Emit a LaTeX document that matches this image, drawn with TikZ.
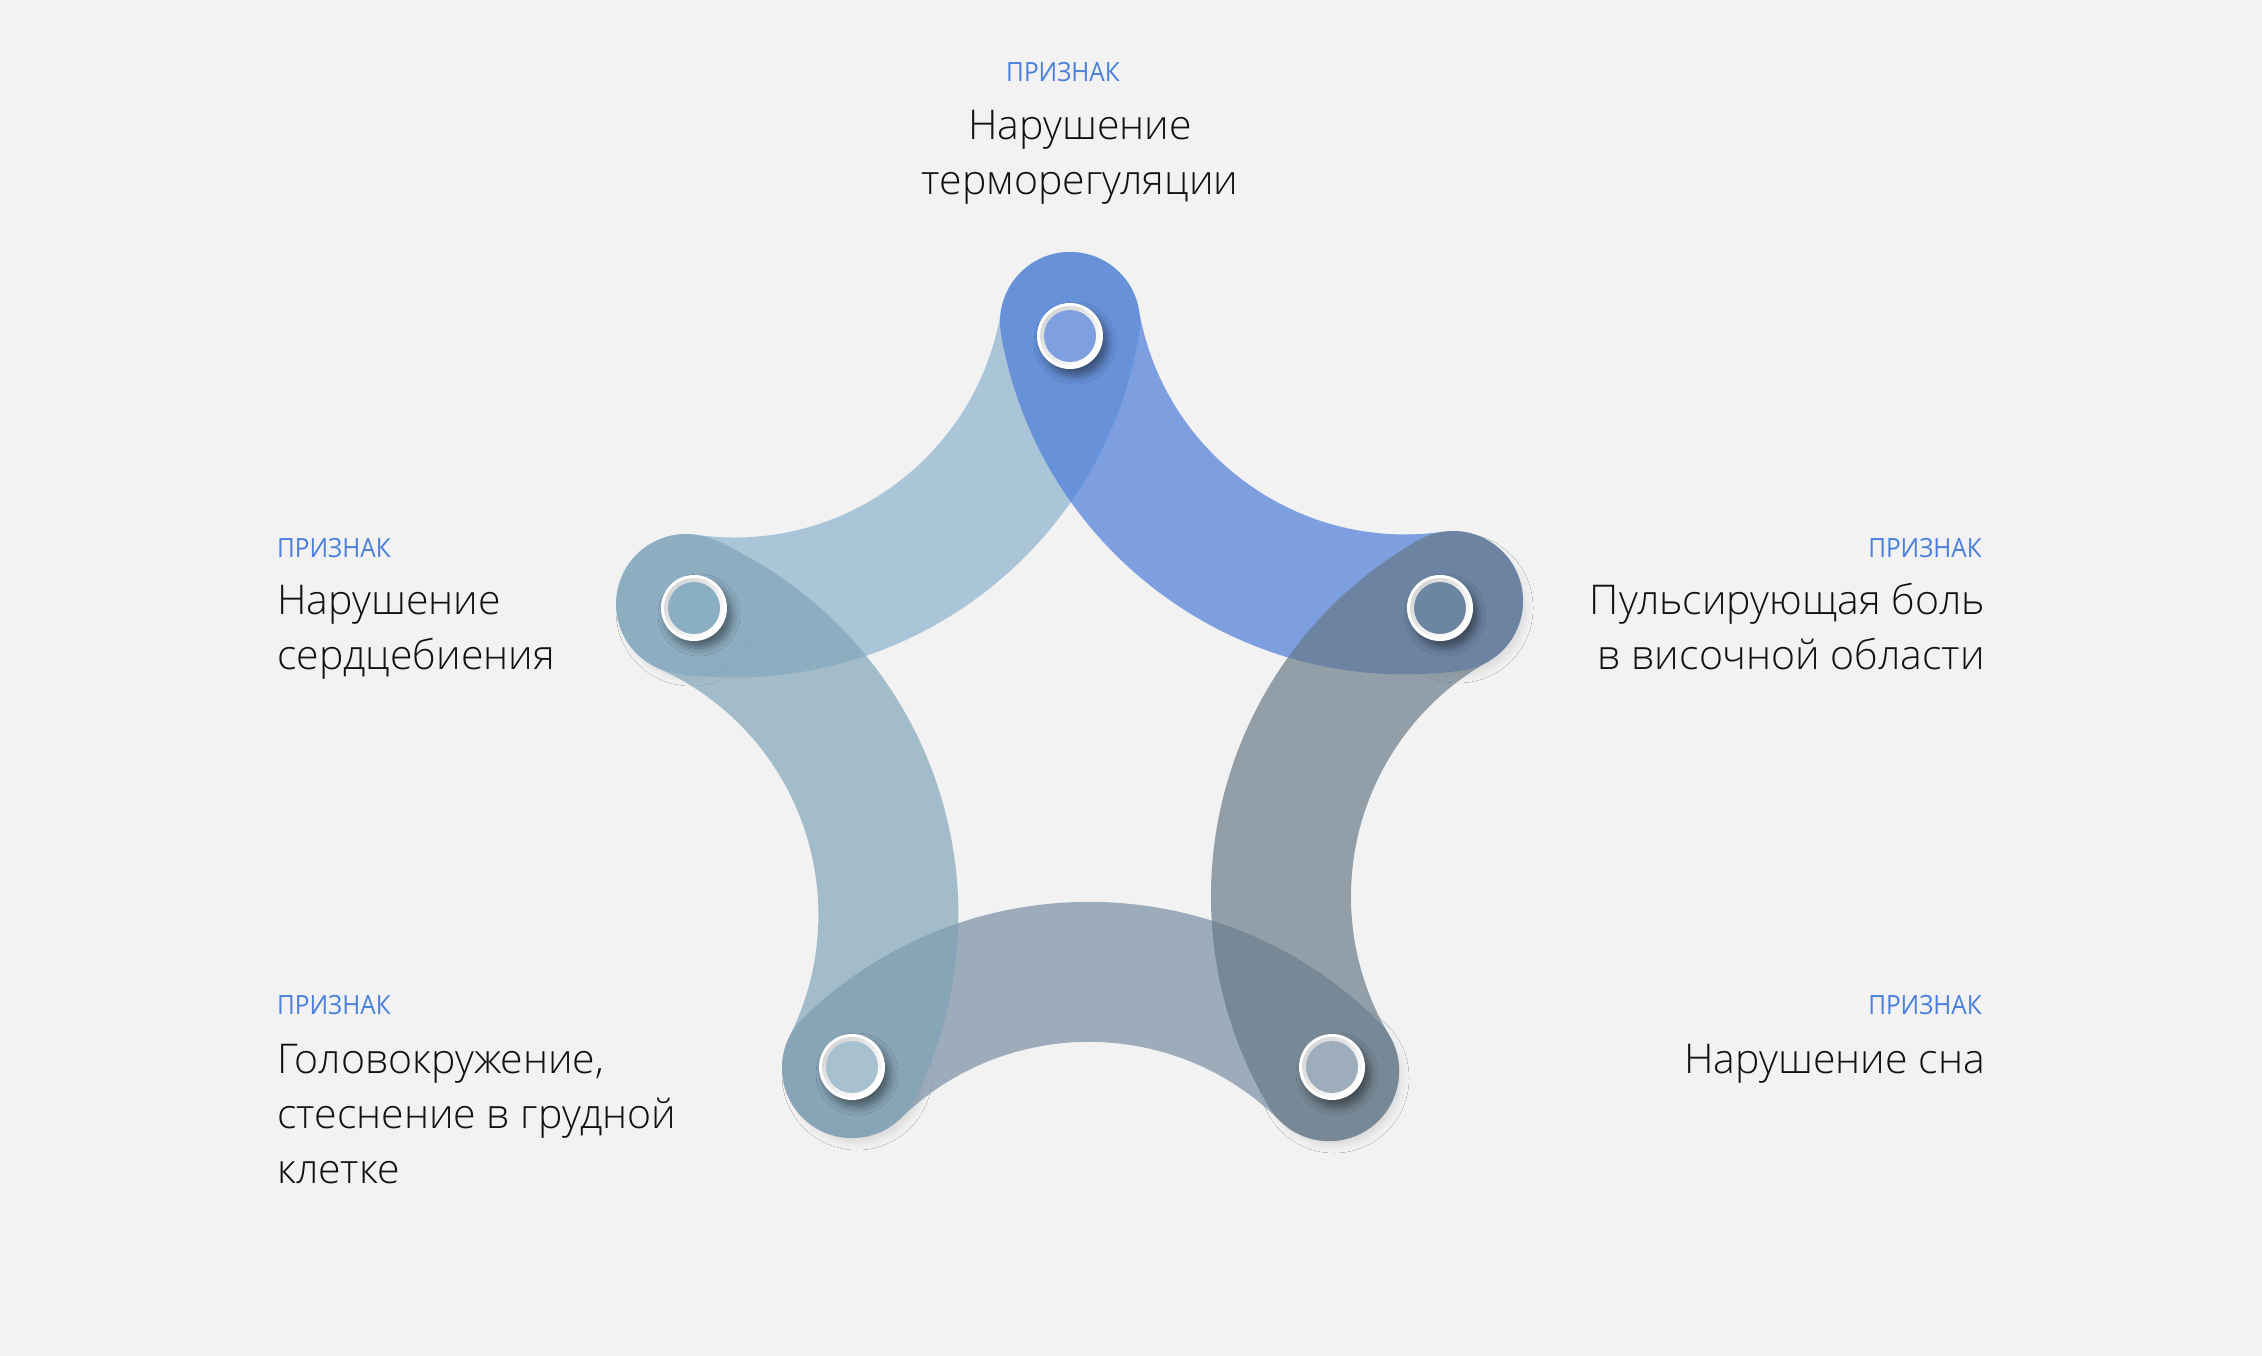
\documentclass[tikz,border=0pt]{standalone}
\usepackage{fontspec}
\setmainfont{Open Sans Light}
\newfontfamily\lblfont{Open Sans}[FakeStretch=0.92]
\usetikzlibrary{shadows.blur}
\definecolor{bgc}{HTML}{F2F2F2}
\definecolor{cLB}{HTML}{8AB1CC}
\definecolor{cBlue}{HTML}{4779D8}
\definecolor{cGray}{HTML}{657885}
\definecolor{cBot}{HTML}{758CA1}
\definecolor{cLeft}{HTML}{7FA3B7}
\definecolor{lab}{HTML}{4A80DB}
\definecolor{txt}{HTML}{111111}
\definecolor{dT}{HTML}{7EA0E0}
\definecolor{dR}{HTML}{6C85A1}
\definecolor{dL}{HTML}{8AAEC2}
\definecolor{dBL}{HTML}{A8C1CF}
\definecolor{dBR}{HTML}{9DADBB}
\tikzset{
  band/.style={line width=140bp, line cap=round, draw opacity=0.68},
  disc/.style={circle, minimum size=52bp, inner sep=0pt},
  lbl/.style={text=lab, font=\lblfont\fontsize{26.5bp}{30bp}\selectfont, inner sep=0pt},
  mtxt/.style={text=txt, font=\fontsize{41bp}{55bp}\selectfont, inner sep=0pt},
  ringshadow/.style={blur shadow={shadow xshift=5bp, shadow yshift=-7bp, shadow blur radius=8bp, shadow opacity=45}},
  capshadow/.style={blur shadow={shadow xshift=5bp, shadow yshift=-7bp, shadow blur radius=7bp, shadow opacity=9}},
  rim/.style={top color=black!16, bottom color=white, shading angle=45}
}
\begin{document}
\begin{tikzpicture}[x=1bp,y=1bp]
\useasboundingbox (0,0) rectangle (2262,-1356);
\fill[bgc] (0,0) rectangle (2262,-1356);

% arc end points (cap centres)
\coordinate (T) at (1070,-322);
\coordinate (R) at (1453,-601);
\coordinate (BR) at (1329,-1071);
\coordinate (BL) at (852,-1068);
\coordinate (L) at (686,-604);

% faint shadows below the caps
\begin{scope}[even odd rule]
\clip (0,0) rectangle (2262,-1356)
  (T) circle (70) (R) circle (70) (BR) circle (70) (BL) circle (70) (L) circle (70);
\foreach \p in {R,BR,BL,L}
  \fill[bgc, capshadow] (\p) circle (68);
\end{scope}

% bands
\draw[band, draw=cLB]   (L)  arc[start angle=-98.2,  end angle=-9.2,  radius=340];
\draw[band, draw=cBot]  (BR) arc[start angle=45.1,   end angle=134.2, radius=340];
\draw[band, draw=cBlue] (T)  arc[start angle=-170.25,end angle=-81.9, radius=340];
\draw[band, draw=cLeft] (BL) arc[start angle=-26.76, end angle=66.1,  radius=340];
\draw[band, draw=cGray] (R)  arc[start angle=-240.4, end angle=-149.1,radius=340];

% rings
\foreach \n/\x/\y/\c in {nT/1070/-336/dT, nR/1440/-608/dR, nL/694/-608/dL, nBL/852/-1067/dBL, nBR/1332/-1067/dBR}{
  \fill[white, ringshadow] (\x,\y) circle (33);
  \shade[rim] (\x,\y) circle (30);
  \node[disc, fill=\c] (\n) at (\x,\y) {};
}

% texts
\node[lbl, anchor=base] (t0) at (1063,-82) {ПРИЗНАК};
\node[mtxt, anchor=base] (t1) at (1080,-140) {Нарушение};
\node[mtxt, anchor=base] (t2) at (1080,-195) {терморегуляции};

\node[lbl, anchor=base west] (l0) at (277,-557) {ПРИЗНАК};
\node[mtxt, anchor=base west] (l1) at (277,-614) {Нарушение};
\node[mtxt, anchor=base west] (l2) at (277,-669) {сердцебиения};

\node[lbl, anchor=base east] (r0) at (1982,-557) {ПРИЗНАК};
\node[mtxt, anchor=base east] (r1) at (1985,-614) {Пульсирующая боль};
\node[mtxt, anchor=base east] (r2) at (1985,-669) {в височной области};

\node[lbl, anchor=base west] (bl0) at (277,-1014) {ПРИЗНАК};
\node[mtxt, anchor=base west] (bl1) at (277,-1073) {Головокружение,};
\node[mtxt, anchor=base west] (bl2) at (277,-1128) {стеснение в грудной};
\node[mtxt, anchor=base west] (bl3) at (277,-1183) {клетке};

\node[lbl, anchor=base east] (br0) at (1982,-1014) {ПРИЗНАК};
\node[mtxt, anchor=base east] (br1) at (1985,-1073) {Нарушение сна};
\end{tikzpicture}
\end{document}
